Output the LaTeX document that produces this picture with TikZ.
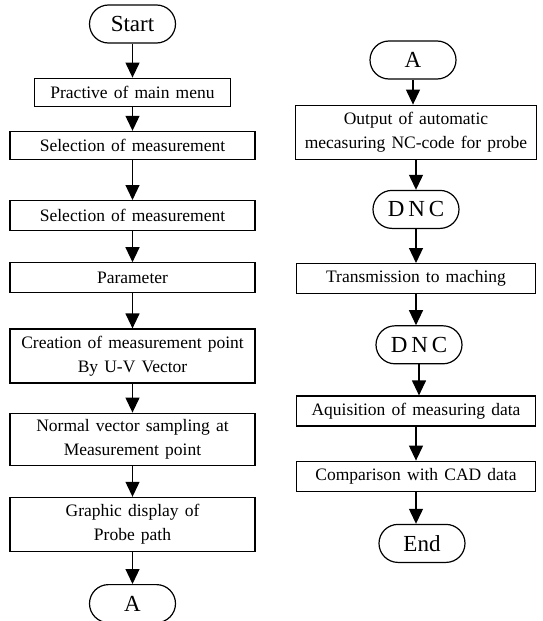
\documentclass[tikz,border=0pt]{standalone}
\usepackage{fontspec}
\setmainfont{Liberation Serif}
\usetikzlibrary{positioning,shapes.misc,arrows.meta}

\begin{document}
\begin{tikzpicture}[x=1pt,y=1pt,
  line width=1.2pt,
  every node/.style={align=center},
  procbox/.style={draw,rectangle,minimum width=245pt,minimum height=30pt,inner sep=4pt,
    font=\fontsize{17.5}{24}\selectfont,execute at begin node={\spaceskip=0.35em plus 0.1em\relax}},
  tallbox/.style={procbox,minimum height=54pt},
  termnode/.style={draw,rounded rectangle,minimum width=90pt,minimum height=38pt,inner sep=2pt,font=\fontsize{23}{26}\selectfont},
  flow/.style={-{Triangle[width=14pt,length=15pt]}}
]
\useasboundingbox (0,0) rectangle (542,-621);

% the left column
\node[termnode] (start) at (132.5,-24) {Start};
\node[procbox,minimum width=196pt,minimum height=28pt] (menu) [below=34pt of start] {Practive of main menu};
\node[procbox,minimum height=28pt] (selA) [below=24pt of menu] {Selection of measurement};
\node[procbox] (selB) [below=40pt of selA] {Selection of measurement};
\node[procbox] (param) [below=31pt of selB] {Parameter};
\node[tallbox] (point) [below=35pt of param] {Creation of measurement point\\By U-V Vector};
\node[tallbox,minimum height=52pt] (normal) [below=29pt of point] {Normal vector sampling at\\Measurement point};
\node[tallbox] (probe) [below=31pt of normal] {Graphic display of\\Probe path};
\node[termnode] (la) [below=32pt of probe] {A};

% the right column
\node[termnode] (ra) at (413,-60) {A};
\node[tallbox,minimum width=241pt] (nccode) [below=25pt of ra,xshift=3pt] {Output of automatic\\mecasuring NC-code for probe};
\node[termnode] (dnca) [below=30pt of nccode] {D\,N\,C};
\node[procbox,minimum width=239pt] (trans) [below=34pt of dnca] {Transmission to maching};
\node[termnode] (dncb) [below=31pt of trans,xshift=3pt] {D\,N\,C};
\node[procbox,minimum width=239pt] (aquis) [below=31pt of dncb,xshift=-3pt] {Aquisition of measuring data};
\node[procbox,minimum width=239pt] (comp) [below=34pt of aquis] {Comparison with CAD data};
\node[termnode] (finish) [below=32pt of comp,xshift=6pt] {End};

% the arrows
\foreach \a/\b in {start/menu,menu/selA,selA/selB,selB/param,param/point,point/normal,normal/probe,probe/la,
  ra/nccode,nccode/dnca,dnca/trans,trans/dncb,dncb/aquis,aquis/comp,comp/finish}
  \draw[flow] (\a.south) -- (\a.south |- \b.north);

\end{tikzpicture}
\end{document}
